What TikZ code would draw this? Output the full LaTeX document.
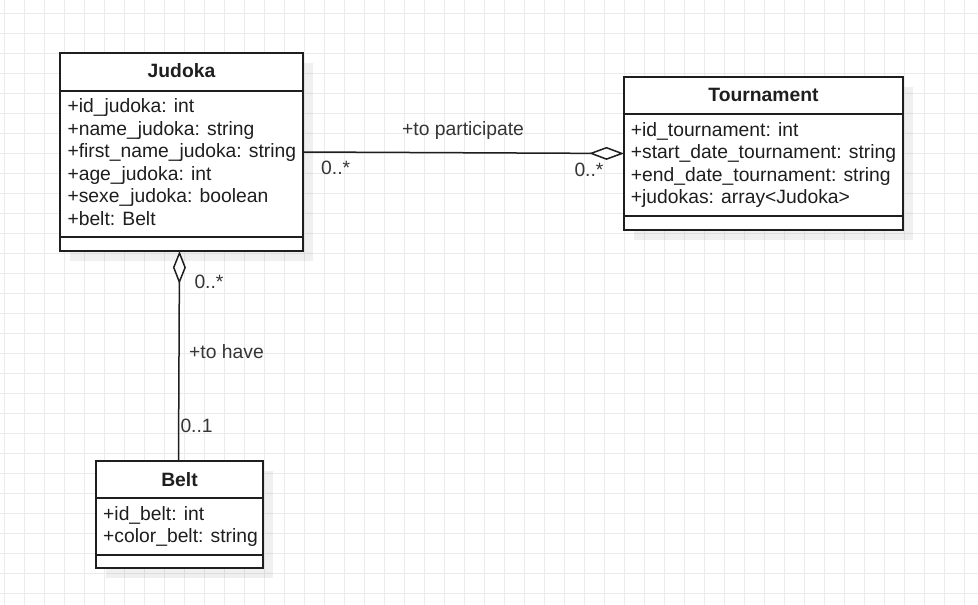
\documentclass[tikz,border=0pt]{standalone}
\usepackage{fontspec}
\setmainfont{Liberation Sans}
\usetikzlibrary{arrows.meta,shadows}
\definecolor{gridc}{HTML}{EBEBEB}
\definecolor{ink}{HTML}{1E1E1E}
\newcommand\umlfont{\fontsize{19.3}{22.5}\selectfont}
\begin{document}
\begin{tikzpicture}[x=1pt,y=-1pt,
  gridline/.style={draw=gridc,line width=1pt},
  classbox/.style={draw=ink,line width=2pt,fill=white,inner sep=0pt,outer sep=0pt,anchor=north west,
    drop shadow={shadow xshift=10pt,shadow yshift=-10pt,fill=black,opacity=0.06}},
  sepline/.style={draw=ink,line width=2pt},
  title/.style={font=\umlfont\bfseries,text=ink,inner sep=0pt,anchor=base},
  attr/.style={font=\umlfont,text=ink,inner sep=0pt,anchor=base west},
  lbl/.style={font=\umlfont,text=ink!90,inner sep=0pt,anchor=base west},
  assoc/.style={draw=ink,line width=1.5pt},
  agg/.style={Diamond[fill=white,length=34pt,width=13pt]}
]
\useasboundingbox (0,0) rectangle (978,605);
\fill[white] (0,0) rectangle (978,605);
\foreach \x in {4,24,...,964} \draw[gridline] (\x,0) -- (\x,605);
\foreach \y in {13,33,...,593} \draw[gridline] (0,\y) -- (978,\y);

% classes
\node[classbox,minimum width=243pt,minimum height=198pt] (judoka) at (60,53) {};
\node[classbox,minimum width=279pt,minimum height=153pt] (tournament) at (624,77) {};
\node[classbox,minimum width=167pt,minimum height=107pt] (belt) at (96,461) {};

\draw[sepline] (judoka.west |- 0,91) -- (judoka.east |- 0,91);
\draw[sepline] (judoka.west |- 0,237) -- (judoka.east |- 0,237);
\draw[sepline] (tournament.west |- 0,114) -- (tournament.east |- 0,114);
\draw[sepline] (tournament.west |- 0,216) -- (tournament.east |- 0,216);
\draw[sepline] (belt.west |- 0,498) -- (belt.east |- 0,498);
\draw[sepline] (belt.west |- 0,555) -- (belt.east |- 0,555);

% Judoka texts
\node[title] (judoka-t) at (181.5,77.3) {Judoka};
\node[attr] (j1) at (67.3,112.5) {+id\_judoka: int};
\node[attr] (j2) at (67.3,135) {+name\_judoka: string};
\node[attr] (j3) at (67.3,157.5) {+first\_name\_judoka: string};
\node[attr] (j4) at (67.3,180) {+age\_judoka: int};
\node[attr] (j5) at (67.3,202.5) {+sexe\_judoka: boolean};
\node[attr] (j6) at (67.3,225) {+belt: Belt};

% Tournament texts
\node[title] (tournament-t) at (763.5,101.7) {Tournament};
\node[attr] (t1) at (630.7,136) {+id\_tournament: int};
\node[attr] (t2) at (630.7,158.5) {+start\_date\_tournament: string};
\node[attr] (t3) at (630.7,181) {+end\_date\_tournament: string};
\node[attr] (t4) at (630.7,203.5) {+judokas: array<Judoka>};

% Belt texts
\node[title] (belt-t) at (179.5,486) {Belt};
\node[attr] (b1) at (103,520) {+id\_belt: int};
\node[attr] (b2) at (103,542.5) {+color\_belt: string};

% associations
\draw[assoc,-{Diamond[fill=white,length=35pt,width=13pt]}] (judoka.east) -- (tournament.west);
\draw[assoc,{Diamond[fill=white,length=33pt,width=13pt]}-] ([xshift=-2pt]judoka.south) -- ([xshift=-1pt]belt.north);

% labels
\node[lbl] (l-part) at (402,135) {+to participate};
\node[lbl] (l-jm) at (321,174) {0..*};
\node[lbl] (l-tm) at (574.3,176) {0..*};
\node[lbl] (l-jb) at (194.3,288.3) {0..*};
\node[lbl] (l-have) at (189,358.3) {+to have};
\node[lbl] (l-bm) at (180.3,432.7) {0..1};
\end{tikzpicture}
\end{document}
